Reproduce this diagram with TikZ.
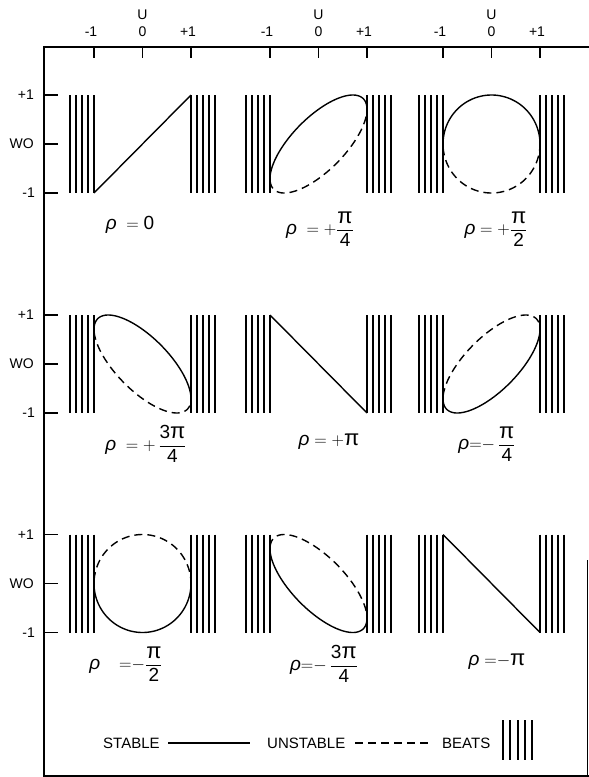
\documentclass[tikz,border=0pt]{standalone}
\usepackage{amsmath}
\usepackage{fontspec}
\setmainfont{Liberation Sans}
\newcommand{\myrho}{\text{\itshape ρ}}
\newcommand{\mypi}{\text{\fontsize{22}{22}\selectfont π}}
\begin{document}
\begin{tikzpicture}[x=1pt,y=-1pt,
  frame/.style={line width=1.8pt},
  tick/.style={line width=1.6pt},
  beat/.style={line width=2pt},
  curve/.style={line width=1.4pt},
  unst/.style={curve, dash pattern=on 8pt off 5pt},
  ax/.style={font=\fontsize{14}{16}\selectfont, inner sep=0pt},
  lab/.style={font=\fontsize{19}{22}\selectfont, inner sep=0pt},
  leg/.style={font=\fontsize{15}{17}\selectfont, inner sep=0pt, anchor=west}]
\useasboundingbox (0,0) rectangle (589,777);
% frame
\draw[frame] (589,47) -- (44,47) -- (44,776) -- (589,776);
\draw[line width=0.8pt] (587,560) -- (587,776);
% top axis
\foreach \cx [count=\i] in {142.5,318.5,491.5} {
  \foreach \d in {-48.5,0,48.5} \draw[tick] (\cx+\d,47) -- (\cx+\d,58);
  \node[ax] (tm\i) at (\cx-51.5,32) {-1};
  \node[ax] (tz\i) at (\cx,32) {0};
  \node[ax] (tu\i) at (\cx,15) {U};
  \node[ax] (tp\i) at (\cx+45.5,32) {+1};
}
% left axis
\foreach \cy [count=\i] in {144,364,583.5} {
  \foreach \d in {-49,0,49} \draw[tick] (44,\cy+\d) -- (58,\cy+\d);
  \node[ax,anchor=east] (lp\i) at (34,\cy-49) {+1};
  \node[ax,anchor=east] (lw\i) at (34,\cy) {WO};
  \node[ax,anchor=east] (lm\i) at (35,\cy+49) {-1};
}
% panels
\foreach \cx/\cy/\r/\s in {142.5/144/0/0, 318.5/144/45/1, 491.5/144/90/1,
    142.5/364/135/1, 318.5/364/180/0, 491.5/364/-45/1,
    142.5/583.5/-90/1, 318.5/583.5/-135/1, 491.5/583.5/-180/0} {
  \foreach \k in {0,6,12,18,24} {
    \draw[beat] (\cx-48.5-\k,\cy-49) -- (\cx-48.5-\k,\cy+49);
    \draw[beat] (\cx+48.5+\k,\cy-49) -- (\cx+48.5+\k,\cy+49);
  }
  \ifnum\s=0
    \draw[curve] (\cx+48.5,{\cy-49*cos(\r)}) -- (\cx-48.5,{\cy+49*cos(\r)});
  \else
    \draw[curve] plot[domain=0:180,samples=73,smooth] ({\cx+48.5*cos(\x)},{\cy-49*cos(\x-\r)});
    \draw[unst] plot[domain=184:356,samples=73,smooth] ({\cx+48.5*cos(\x)},{\cy-49*cos(\x-\r)});
  \fi
}
% labels
\node[lab] (r1) at (130,225) {$\myrho\;=\text{0}$};
\node[lab] (r2) at (320,229) {$\myrho\;=+\dfrac{\mypi}{\text{4}}$};
\node[lab] (r3) at (496,229) {$\myrho=+\dfrac{\mypi}{\text{2}}$};
\node[lab] (r4) at (146,444) {$\myrho\;=+\,\dfrac{\text{3}\mypi}{\text{4}}$};
\node[lab] (r5) at (329,442) {$\myrho=+\mypi$};
\node[lab] (r6) at (487,444) {$\myrho{=}{-}\,\dfrac{\mypi}{\text{4}}$};
\node[lab] (r7) at (126,664) {$\myrho\quad{=}{-}\dfrac{\mypi}{\text{2}}$};
\node[lab] (r8) at (324,664) {$\myrho{=}{-}\,\dfrac{\text{3}\mypi}{\text{4}}$};
\node[lab] (r9) at (497,662) {$\myrho\;{=}{-}\mypi$};
% legend
\node[leg] (stable) at (103,743) {STABLE};
\node[leg] (unstable) at (267,743) {UNSTABLE};
\node[leg] (beats) at (442,743) {BEATS};
\coordinate (sa) at (168,743); \coordinate (sb) at (250,743);
\coordinate (ua) at (355,743); \coordinate (ub) at (430,743);
\draw[curve] (sa) -- (sb);
\draw[unst] (ua) -- (ub);
\foreach \k in {0,1,2,3,4} \draw[beat] (503+7.25*\k,720) -- (503+7.25*\k,760);
\end{tikzpicture}
\end{document}
